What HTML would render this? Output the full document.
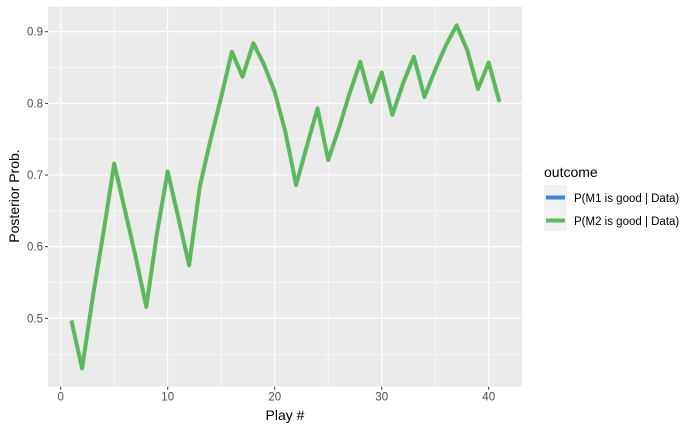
<!DOCTYPE html>
<html><head><meta charset="utf-8"><style>body{margin:0;background:#fff}svg{display:block;font-family:"Liberation Sans",Arial,sans-serif}</style></head>
<body>
<svg width="700" height="432" viewBox="0 0 700 432">
<rect x="48" y="6.7" width="474" height="380" fill="#ebebeb"/>
<g id="grid"></g>
<g id="series"></g>
<g id="axes"></g>
<text x="285" y="420" font-size="14" text-anchor="middle" fill="#000">Play #</text>
<text transform="translate(19,196) rotate(-90)" font-size="14" text-anchor="middle" fill="#000">Posterior Prob.</text>
<g>
<text x="544" y="177" font-size="14" fill="#000">outcome</text>
<rect x="544" y="185" width="23" height="46" fill="#f2f2f2"/>
<line x1="546" x2="565" y1="197.5" y2="197.5" stroke="#3f87cf" stroke-width="4"/>
<line x1="546" x2="565" y1="220.5" y2="220.5" stroke="#5cb85c" stroke-width="4"/>
<text x="574" y="202" font-size="11.5" fill="#000">P(M1 is good | Data)</text>
<text x="574" y="225" font-size="11.5" fill="#000">P(M2 is good | Data)</text>
</g>
</svg>
<script>
const plays = [1,2,3,4,5,6,7,8,9,10,11,12,13,14,15,16,17,18,19,20,21,22,23,24,25,26,27,28,29,30,31,32,33,34,35,36,37,38,39,40,41];
const pM2 = [0.497,0.430,0.53,0.62,0.716,0.651,0.586,0.516,0.619,0.705,0.64,0.574,0.684,0.749,0.809,0.872,0.837,0.884,0.854,0.816,0.76,0.686,0.74,0.793,0.721,0.765,0.814,0.858,0.802,0.843,0.784,0.828,0.865,0.809,0.847,0.881,0.909,0.874,0.820,0.857,0.802];
const xTicks = [0,10,20,30,40];
const yTicks = [0.5,0.6,0.7,0.8,0.9];
const xMinor = [5,15,25,35];
const yMinor = [0.45,0.55,0.65,0.75,0.85];

const NS="http://www.w3.org/2000/svg";
const X = v => 60.7 + v*10.70;
const Y = v => 31.7 + (0.9 - v)*716.5;
const L=48,R=522,T=6.7,B=386.7;
function mk(tag, attrs, parent){const e=document.createElementNS(NS,tag);for(const k in attrs)e.setAttribute(k,attrs[k]);parent.appendChild(e);return e;}
const grid=document.getElementById('grid'), ax=document.getElementById('axes'), ser=document.getElementById('series');
xMinor.forEach(v=>{const e=mk('line',{x1:X(v),x2:X(v),y1:T,y2:B,stroke:'#fff','stroke-width':0.6},grid);

});
yMinor.forEach(v=>{const e=mk('line',{x1:L,x2:R,y1:Y(v),y2:Y(v),stroke:'#fff','stroke-width':0.6},grid);

});
xTicks.forEach(v=>{const e=mk('line',{x1:X(v),x2:X(v),y1:T,y2:B,stroke:'#fff','stroke-width':1.1},grid);


const t=mk('line',{x1:X(v),x2:X(v),y1:B,y2:B+3,stroke:'#333','stroke-width':1},ax);


const l=mk('text',{x:X(v),y:B+14,'font-size':11.5,'text-anchor':'middle',fill:'#4d4d4d'},ax);l.textContent=v;

});
yTicks.forEach(v=>{const e=mk('line',{x1:L,x2:R,y1:Y(v),y2:Y(v),stroke:'#fff','stroke-width':1.1},grid);


const t=mk('line',{x1:L-3,x2:L,y1:Y(v),y2:Y(v),stroke:'#333','stroke-width':1},ax);


const l=mk('text',{x:L-5,y:Y(v)+4,'font-size':11.5,'text-anchor':'end',fill:'#4d4d4d'},ax);l.textContent=v.toFixed(1);

});
const pts=plays.map((p,i)=>X(p).toFixed(1)+','+Y(pM2[i]).toFixed(1)).join(' ');
const line=mk('polyline',{points:pts,fill:'none',stroke:'#5cb85c','stroke-width':4,'stroke-linejoin':'round'},ser);


</script>
</body></html>
